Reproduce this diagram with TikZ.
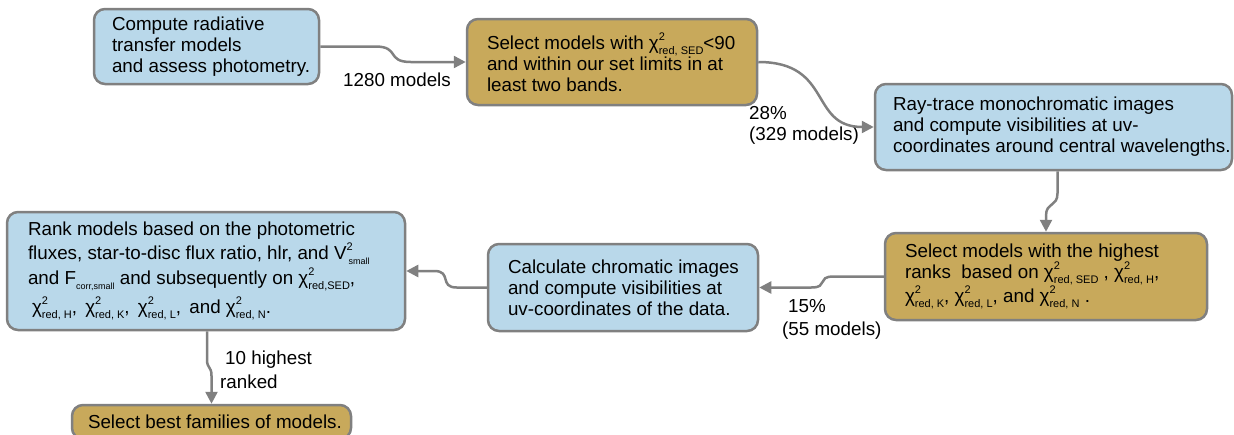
\documentclass[tikz,border=0pt]{standalone}
\usepackage{fontspec}
\setmainfont{Liberation Sans}
\usetikzlibrary{arrows.meta,calc}
\definecolor{boxblue}{RGB}{185,216,234}
\definecolor{boxgold}{RGB}{200,169,91}
\definecolor{edgegray}{RGB}{128,128,128}
\newcommand{\ssz}{\fontsize{11}{11}\selectfont}
\newcommand{\tsz}{\fontsize{9}{9}\selectfont}
\newcommand{\bxline}[1]{\mbox{\spaceskip=0pt\xspaceskip=0pt #1}}
\newcommand{\chisub}[1]{χ\makebox[0pt][l]{\raisebox{9pt}{\ssz 2}}\raisebox{-5pt}{\ssz #1}}
\begin{document}
\begin{tikzpicture}[x=1pt,y=-1pt,
  box/.style={draw=edgegray, line width=2.5pt, rounded corners=11pt, align=left,
    inner ysep=0pt, font=\fontsize{18.8}{21}\selectfont, text=black},
  bluebox/.style={box, fill=boxblue},
  goldbox/.style={box, fill=boxgold},
  edge/.style={draw=edgegray, line width=2.5pt, -{Triangle[length=12pt,width=12pt]}},
  lbl/.style={inner sep=0pt, align=left, font=\fontsize{18.8}{21}\selectfont, text=black}]
\useasboundingbox (0,0) rectangle (1234,434);
\node[bluebox, inner xsep=18pt, text width=189pt, minimum height=75pt] (b1) at (206.5,46.5)
  {\bxline{Compute radiative}\\\bxline{transfer models}\\\bxline{and assess photometry.}};
\node[goldbox, inner xsep=20pt, text width=250pt, minimum height=86pt] (b2) at (612,62)
  {\bxline{Select models with \chisub{red, SED}<90}\\\bxline{and within our set limits in at}\\\bxline{least two bands.}};
\node[bluebox, inner xsep=18pt, text width=321pt, minimum height=86pt] (b3) at (1053.5,127)
  {\bxline{Ray-trace monochromatic images}\\\bxline{and compute visibilities at uv-}\\\bxline{coordinates around central wavelengths.}};
\node[goldbox, inner xsep=20pt, text width=282pt, minimum height=87pt] (b4) at (1046,276.5)
  {\bxline{Select models with the highest}\\\bxline{ranks\ \ based on \chisub{red, SED}\ , \chisub{red, H},}\\\bxline{\chisub{red, K}, \chisub{red, L}, and \chisub{red, N}\ .}};
\node[bluebox, inner xsep=21pt, text width=356pt, minimum height=118pt] (b6) at (206,271)
  {\bxline{Rank models based on the photometric}\\[3pt]\bxline{fluxes, star-to-disc flux ratio, hlr, and V\makebox[0pt][l]{\raisebox{9pt}{\ssz 2}}\hspace{2pt}\raisebox{-5pt}{\tsz small}}\\[2pt]\bxline{and F\raisebox{-5pt}{\tsz corr,small} and subsequently on \chisub{red,SED},}\\[5pt]\bxline{\hspace{4pt}\chisub{red, H},\hspace{3pt} \chisub{red, K},\hspace{3pt} \chisub{red, L},\hspace{3pt} and \chisub{red, N}.}};
\node[bluebox, inner xsep=20pt, text width=230pt, minimum height=87pt] (b5) at (623,287.5)
  {\bxline{Calculate chromatic images}\\\bxline{and compute visibilities at}\\\bxline{uv-coordinates of the data.}};
\node[goldbox, inner xsep=16pt, text width=247pt, minimum height=34pt] (b7) at (211.5,422)
  {\bxline{Select best families of models.}};
% edge labels
\node[lbl] (l1) at (397,80) {1280 models};
\node[lbl, anchor=north west] (l2) at (749,106) {28\%\\(329 models)};
\node[lbl, anchor=north west, font=\fontsize{18.8}{23}\selectfont] (l3) at (782,299) {\hspace*{6pt}15\%\\(55 models)};
\node[lbl, anchor=north west, font=\fontsize{18.8}{24}\selectfont] (l4) at (220,351) {\hspace*{5pt}10 highest\\ranked};
% connectors
\draw[edge] (b1.east) -- ++(55,0) .. controls +(25,0) and +(-25,0) .. ($(b2.west)+(-55,0)$) -- (b2.west);
\draw[edge] (b2.east) .. controls +(75,0) and +(-65,0) .. (b3.west);
\draw[edge] ($(b3.south)+(4,0)$) -- ++(0,22) .. controls +(0,14) and +(0,-14) .. ($(b4.north)+(0,-16)$) -- (b4.north);
\draw[edge] (b4.west) -- ++(-50,0) .. controls +(-18,0) and +(18,0) .. ($(b5.east)+(52,0)$) -- (b5.east);
\draw[edge] (b5.west) -- ++(-30,0) .. controls +(-18,0) and +(18,0) .. ($(b6.east)+(28,0)$) -- (b6.east);
\draw[edge] ($(b6.south)+(1,0)$) -- ++(0,28) .. controls +(0,10) and +(0,-10) .. ($(b7.north)+(0,-28)$) -- (b7.north);
\end{tikzpicture}
\end{document}
